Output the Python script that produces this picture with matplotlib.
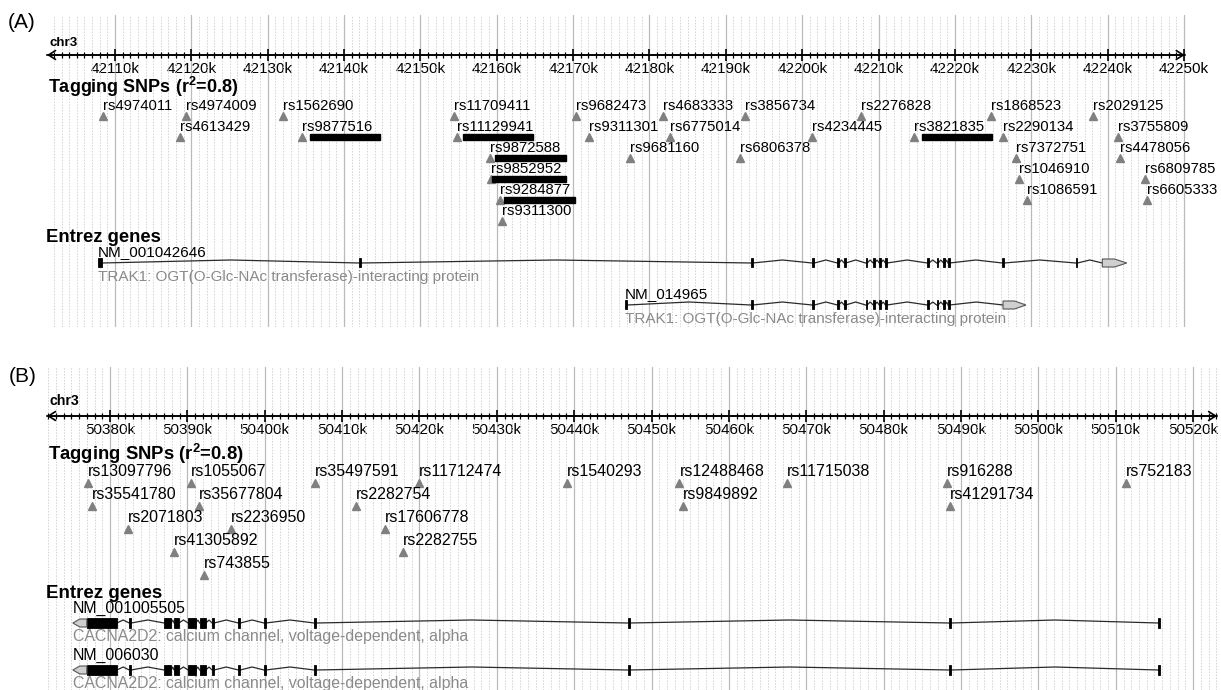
import matplotlib
matplotlib.use("Agg")
import matplotlib.pyplot as plt
from matplotlib.ticker import MultipleLocator, FuncFormatter
from matplotlib.patches import Rectangle, Polygon

plt.rcParams['font.family'] = ['Liberation Sans', 'DejaVu Sans']
plt.rcParams['mathtext.fontset'] = 'custom'
plt.rcParams['mathtext.rm'] = 'Liberation Sans'
plt.rcParams['mathtext.bf'] = 'Liberation Sans:bold'

# ---------------- Panel A: TRAK1 region (kb on chr3) ----------------
a_snp_names = ["rs4974011", "rs4974009", "rs1562690", "rs11709411", "rs9682473",
               "rs4683333", "rs3856734", "rs2276828", "rs1868523", "rs2029125",
               "rs4613429", "rs9877516", "rs11129941", "rs9311301", "rs6775014",
               "rs4234445", "rs3821835", "rs2290134", "rs3755809",
               "rs9872588", "rs9681160", "rs6806378", "rs7372751", "rs4478056",
               "rs9852952", "rs1046910", "rs6809785",
               "rs9284877", "rs1086591", "rs6605333",
               "rs9311300"]
a_snp_kb = [42108.4, 42119.3, 42132.0, 42154.4, 42170.4,
            42181.8, 42192.5, 42207.7, 42224.7, 42238.1,
            42118.5, 42134.5, 42154.8, 42172.1, 42182.7,
            42201.3, 42214.6, 42226.3, 42241.4,
            42159.1, 42177.4, 42191.8, 42228.0, 42241.6,
            42159.2, 42228.4, 42244.9,
            42160.4, 42229.4, 42245.2,
            42160.7]
a_snp_row = [0] * 10 + [1] * 9 + [2] * 5 + [3] * 3 + [4] * 3 + [5]

a_bar_start = [42135.5, 42155.6, 42159.8, 42159.4, 42160.9, 42215.7]
a_bar_end = [42144.7, 42164.7, 42169.1, 42169.1, 42170.2, 42224.9]
a_bar_row = [1, 1, 2, 3, 4, 1]

a_cluster = [(42201.3, 42201.6), (42204.6, 42204.8), (42205.5, 42205.7),
             (42208.3, 42208.5), (42209.3, 42209.5), (42210.1, 42210.3),
             (42210.9, 42211.1), (42216.4, 42216.6), (42217.6, 42217.8),
             (42218.5, 42218.7), (42219.1, 42219.3)]
a_tx1_exons = [(42107.8, 42108.3), (42142.0, 42142.25), (42193.3, 42193.5)] + a_cluster + \
              [(42226.2, 42226.45), (42235.8, 42236.05)]
a_tx1_utr = (42239.3, 42242.5)
a_tx2_exons = [(42176.8, 42177.1), (42193.3, 42193.5)] + a_cluster
a_tx2_utr = (42226.3, 42229.3)

a_tx_names = ["NM_001042646", "NM_014965"]
a_tx_desc = "TRAK1: OGT(O-Glc-NAc transferase)-interacting protein"

# ---------------- Panel B: CACNA2D2 region (kb on chr3) ----------------
b_snp_names = ["rs13097796", "rs1055067", "rs35497591", "rs11712474", "rs1540293",
               "rs12488468", "rs11715038", "rs916288", "rs752183",
               "rs35541780", "rs35677804", "rs2282754", "rs9849892", "rs41291734",
               "rs2071803", "rs2236950", "rs17606778",
               "rs41305892", "rs2282755",
               "rs743855"]
b_snp_kb = [50377.2, 50390.5, 50406.5, 50419.9, 50439.1,
            50453.6, 50467.5, 50488.2, 50511.3,
            50377.7, 50391.5, 50411.8, 50454.1, 50488.6,
            50382.3, 50395.6, 50415.5,
            50388.3, 50417.9,
            50392.2]
b_snp_row = [0] * 9 + [1] * 5 + [2] * 3 + [3] * 2 + [4]

b_thick_exons = [(50377.0, 50380.9), (50387.0, 50387.9), (50388.3, 50388.9),
                 (50390.1, 50391.1), (50391.6, 50392.4)]
b_thin_exons = [(50382.5, 50382.75), (50393.2, 50393.45), (50396.6, 50396.85),
                (50399.9, 50400.15), (50406.4, 50406.65), (50446.9, 50447.15),
                (50488.5, 50488.75), (50515.5, 50515.75)]
b_utr = (50377.0, 50375.2)          # base, tip (minus strand)
b_tx_names = ["NM_001005505", "NM_006030"]
b_tx_desc = "CACNA2D2: calcium channel, voltage-dependent, alpha"

W, H = 1221, 690
fig = plt.figure(figsize=(W / 100, H / 100), dpi=100)
fig.patch.set_facecolor('white')

TRI_COLOR = '#808080'
DESC_COLOR = '#8a8a8a'
LINE_COLOR = '#2a2a2a'


def fig_text(x, y, s, **kw):
    fig.text(x / W, 1 - y / H, s, **kw)


def make_track(l, t, r, b, xlim, axis_y, arrow_tip, tick_size):
    ax = fig.add_axes([l / W, 1 - b / H, (r - l) / W, (b - t) / H])
    ax.set_xlim(*xlim)
    ax.set_ylim(b, t)
    for side in ('top', 'left', 'right'):
        ax.spines[side].set_visible(False)
    ax.yaxis.set_visible(False)
    ax.patch.set_alpha(0)
    sp = ax.spines['bottom']
    sp.set_position(('data', axis_y))
    sp.set_linewidth(1.2)
    sp.set_bounds(xlim[0], arrow_tip)
    ax.xaxis.set_major_locator(MultipleLocator(10))
    ax.xaxis.set_minor_locator(MultipleLocator(1))
    ax.xaxis.set_major_formatter(FuncFormatter(lambda v, p: f"{v:.0f}k"))
    ax.tick_params(axis='x', which='major', direction='inout', length=9, width=1.2,
                   labelsize=tick_size, pad=0.6)
    ax.tick_params(axis='x', which='minor', direction='inout', length=5, width=0.9)
    ax.grid(which='major', axis='x', color='#bababa', lw=0.9)
    ax.grid(which='minor', axis='x', color='#d3d3d3', lw=0.7, ls=(0, (1.5, 1.5)))
    ax.set_axisbelow(True)
    ax.annotate('', xy=(xlim[0], axis_y), xytext=(arrow_tip, axis_y),
                arrowprops=dict(arrowstyle='<->,head_length=0.5,head_width=0.32',
                                lw=1.2, color='k', shrinkA=0, shrinkB=0))
    return ax


def draw_snps(ax, names, kb, rows, y0, dy, tri_off, fsize):
    for n, x, r in zip(names, kb, rows):
        ty = y0 + r * dy
        ax.text(x, ty, n, fontsize=fsize, ha='left', va='center', color='black')
        ax.plot(x, ty + tri_off, marker='^', ms=5.5, color=TRI_COLOR, mec=TRI_COLOR, ls='none')


def hats(ax, segs, y, h=3.0):
    for a, b in segs:
        ax.plot([a, (a + b) / 2, b], [y, y - h, y], color=LINE_COLOR, lw=0.9,
                solid_joinstyle='miter')


def exon_boxes(ax, exons, y, hh, color='black'):
    for s, e in exons:
        ax.add_patch(Rectangle((s, y - hh), e - s, 2 * hh, facecolor=color,
                               edgecolor=color, lw=0.6, zorder=4))


def utr_arrow(ax, base, tip, y, hh=4.0):
    length = (tip - base) * 0.5
    pts = [(base, y - hh), (tip - length, y - hh), (tip, y), (tip - length, y + hh), (base, y + hh)]
    ax.add_patch(Polygon(pts, closed=True, facecolor='#cfcfcf', edgecolor='#555555',
                         lw=0.8, zorder=4))


# ---------------- draw panel A ----------------
axA = make_track(47, 15, 1186, 327, (42101.1, 42250.26), 55, 42250.1, 11.0)
fig_text(8, 23, '(A)', fontsize=15, va='center', ha='left')
fig_text(49, 43, 'chr3', fontsize=9.6, fontweight='bold', va='center')
fig_text(48, 87, r'Tagging SNPs (r$^{\mathbf{2}}$=0.8)', fontsize=13.0, fontweight='bold', va='center')
fig_text(46, 238, 'Entrez genes', fontsize=13.3, fontweight='bold', va='center')

draw_snps(axA, a_snp_names, a_snp_kb, a_snp_row, 106, 21, 10, 10.7)
for s, e, r in zip(a_bar_start, a_bar_end, a_bar_row):
    axA.add_patch(Rectangle((s, 106 + r * 21 + 10 - 3), e - s, 6, facecolor='black',
                            edgecolor='black', zorder=3))

for exons, utr, gy, name in [(a_tx1_exons, a_tx1_utr, 263, a_tx_names[0]),
                             (a_tx2_exons, a_tx2_utr, 305, a_tx_names[1])]:
    feats = exons + [utr]
    hats(axA, [(feats[i][1], feats[i + 1][0]) for i in range(len(feats) - 1)], gy)
    exon_boxes(axA, exons, gy, 4.5)
    utr_arrow(axA, utr[0], utr[1], gy)
    axA.text(exons[0][0], gy - 11, name, fontsize=11, ha='left', va='center')
    axA.text(exons[0][0], gy + 14, a_tx_desc, fontsize=11, ha='left', va='center',
             color=DESC_COLOR)

# ---------------- draw panel B ----------------
axB = make_track(47, 367, 1221, 690, (50371.86, 50523.6), 416, 50523.1, 11.0)
fig_text(9, 377, '(B)', fontsize=15, va='center', ha='left')
fig_text(49, 401, 'chr3', fontsize=10.2, fontweight='bold', va='center')
fig_text(48, 454, r'Tagging SNPs (r$^{\mathbf{2}}$=0.8)', fontsize=13.3, fontweight='bold', va='center')
fig_text(46, 593, 'Entrez genes', fontsize=13.5, fontweight='bold', va='center')

draw_snps(axB, b_snp_names, b_snp_kb, b_snp_row, 472, 23, 11, 11.5)

for gy, name in [(623, b_tx_names[0]), (670, b_tx_names[1])]:
    feats = sorted(b_thick_exons + b_thin_exons)
    hats(axB, [(feats[i][1], feats[i + 1][0]) for i in range(len(feats) - 1)], gy)
    exon_boxes(axB, b_thick_exons, gy, 5)
    exon_boxes(axB, b_thin_exons, gy, 5)
    utr_arrow(axB, b_utr[0], b_utr[1], gy)
    axB.text(b_utr[1], gy - 15, name, fontsize=11.4, ha='left', va='center')
    axB.text(b_utr[1], gy + 14, b_tx_desc, fontsize=11.4, ha='left', va='center',
             color=DESC_COLOR)

fig.savefig('out.png', dpi=100, facecolor='white')
